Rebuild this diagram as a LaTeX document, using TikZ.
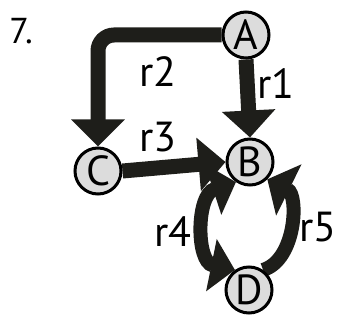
\documentclass[tikz,border=0pt]{standalone}
\usepackage{fontspec}
\setmainfont{PT Sans}
\usetikzlibrary{arrows.meta,backgrounds}
\definecolor{ink}{HTML}{1E1E1A}
\definecolor{disc}{HTML}{DCDCDC}
\begin{document}
\begin{tikzpicture}[x=1pt,y=-1pt,
  state/.style={circle,draw=black,line width=3pt,fill=disc,minimum size=46pt,inner sep=0pt,font=\fontsize{42}{42}\selectfont},
  flux/.style={draw=ink,line width=15pt,-{Triangle[width=52pt,length=27pt]}},
  loopflux/.style={draw=ink,line width=14pt},
  lbl/.style={font=\fontsize{42}{42}\selectfont,inner sep=0pt}]
\useasboundingbox (0,0) rectangle (340,320);
\node[lbl,font=\fontsize{36}{36}\selectfont] (num) at (21,31) {7.};
\node[state] (A) at (246,35) {A};
\node[state] (B) at (250,162) {B};
\node[state] (C) at (98,171) {C};
\node[state] (D) at (249,290) {D};
\begin{scope}[on background layer]
  \draw[flux,rounded corners=16pt] (A.west) -| (C.north);
  \draw[flux] (A.south) -- (B.north);
  \draw[flux] (C.east) -- (B.west);
  \draw[loopflux,{Triangle[width=52pt,length=24pt]}-{Triangle[width=52pt,length=24pt]}]
    (B.235) .. controls (196,195) and (196,262) .. (D.125);
  \draw[loopflux,-{Triangle[width=56pt,length=24pt]}]
    (D.55) .. controls (296,260) and (299,195) .. (B.315);
\end{scope}
\node[lbl] (r1) at (276,84) {r1};
\node[lbl] (r2) at (158,72) {r2};
\node[lbl] (r3) at (158,137) {r3};
\node[lbl] (r4) at (173,232) {r4};
\node[lbl] (r5) at (318,227) {r5};
\end{tikzpicture}
\end{document}
